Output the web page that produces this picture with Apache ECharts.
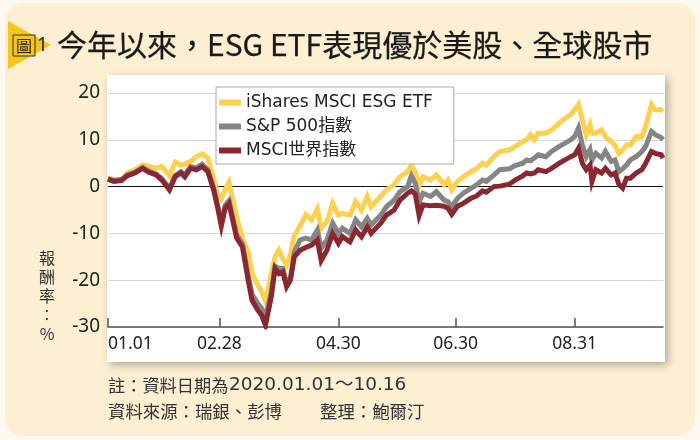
<!DOCTYPE html>
<html><head><meta charset="utf-8">
<script src="https://cdn.jsdelivr.net/npm/echarts@6/dist/echarts.min.js"></script>
<style>html,body{margin:0;padding:0;background:#FFF9EF}#c{width:700px;height:440px}</style>
</head><body><div id="c"></div>
<script>
// days since 2020-01-01
const days = [0,3,7,10,14,18,21,25,28,32,35,38,40,43,46,49,52,55,57,59,61,63,67,70,73,75,78,80,82,85,87,89,91,93,95,97,100,103,106,109,111,114,117,120,122,126,129,132,135,137,142,145,149,152,156,158,160,162,164,168,171,175,177,179,182,185,189,192,195,197,201,204,209,212,216,218,220,222,224,228,231,235,238,241,243,245,247,249,251,252,254,257,259,262,264,266,268,270,272,275,278,280,283,285,288,289];
const esgEtf = [1.9,1.5,1.4,2.9,3.6,4.6,4.4,3.9,4.3,2.3,5.2,4.6,4.8,5.4,6.4,7.0,6.1,1.8,-1.5,-2.6,-0.7,0.9,-6.5,-11,-14,-18.5,-21,-22.5,-24.5,-18.6,-15,-13.6,-15.4,-16.8,-14.5,-10.5,-8.4,-6,-7.1,-4.8,-8.9,-7.5,-3.6,-6.1,-5.7,-6.1,-3.2,-5,-2.1,-4.3,-2.1,-0.7,0.4,2.1,3.2,4.6,3.2,0.2,2.1,1.4,2.5,0.4,1.4,-0.7,1.1,2.1,3.2,3.9,5,4.6,6.4,7.5,7.8,8.6,9.6,10,11.1,10,11.4,11.4,12.1,13.6,14.6,15.4,16.4,17.5,14.3,11.1,13.2,11.4,11.4,12.1,10.7,9.6,8.9,7.1,7.8,8.9,8.9,10.7,10.7,12.9,17.5,16.4,16.4,16];
const sp500 = [1.7,1.3,1.5,2.5,3.1,4.1,3.4,2.7,1.8,-0.4,2.4,3.2,2.5,4.3,4.0,4.8,3.6,-0.3,-3.8,-7.8,-4.0,-3.0,-10.3,-12.2,-19,-23,-25,-26,-28,-22.5,-17,-17.5,-17.5,-20.5,-19.5,-14,-11.4,-11,-11.4,-9.3,-13.2,-11.4,-7.8,-10,-8.9,-10,-7.1,-8.6,-6.8,-8.2,-6.1,-4.3,-2.9,-1.1,0,2.3,0.7,-3.3,-1.4,-2.1,-1.1,-2.9,-3.2,-4.3,-2.5,-1.4,-0.4,0.4,1.4,1.1,2.5,3.6,3.8,4.5,5,5.7,5.5,6.1,6.8,6.4,7.5,8.6,9.3,10,10.7,12.5,8.9,6.4,7.9,5.7,7.1,6.1,7.5,5.4,5.7,3.2,3.8,4.6,5.7,6.4,7.5,8.6,11.8,11.1,10.5,10];
const msciWorld = [1.6,1.1,1.3,2.3,2.9,3.9,3.1,2.5,1.4,-0.7,2.1,2.9,2.1,3.9,3.6,4.3,3.2,-0.7,-4.3,-8.4,-4.6,-3.6,-11,-12.9,-20,-24.3,-26.4,-27.5,-29.6,-23.6,-17.5,-18.6,-18.2,-21.4,-20,-15,-13.6,-13,-12.5,-11.4,-15.8,-13.6,-10,-12.1,-10.7,-11.8,-9.3,-10.7,-8.6,-10,-7.8,-6.1,-5,-2.9,-1.4,-0.9,-1.6,-6.2,-3.9,-4.1,-4,-4.2,-4.6,-5.9,-4.2,-3.6,-2.5,-2,-0.9,-1.2,0,0.1,0.5,1.4,2.3,2.9,2.7,2.9,3.6,3.2,3.9,5,5.7,6.4,6.8,8.2,5,3.6,4.6,1.1,3.6,2.9,3.9,2.5,2.9,0.5,-0.3,1.8,1.8,2.9,3.6,5,7.5,7.1,6.8,6.1];
const tickDays = [0,58,120,181,243];
const tickLabels = ['01.01','02.28','04.30','06.30','08.31'];
const seriesNames = ['iShares MSCI ESG ETF','S&P 500指數','MSCI世界指數'];
const seriesColors = ['#FDD04E','#858585','#8B2730'];
const titleText = '今年以來，ESG ETF表現優於美股、全球股市';
const yName = '報\n酬\n率\n︰\n%';
const note1a = '註：資料日期為';
const note1b = '2020.01.01～10.16';
const note2a = '資料來源：瑞銀、彭博';
const note2b = '整理：鮑爾汀';

const FONT = '"Noto Sans", "Noto Sans CJK TC", sans-serif';
const WIDE = '"DejaVu Sans", "Noto Sans CJK TC", sans-serif';
const CJK = '"Noto Sans CJK TC", sans-serif';
const dataSets = [esgEtf, sp500, msciWorld];

const chart = echarts.init(document.getElementById('c'));
chart.setOption({
  animation: false,
  backgroundColor: '#FFF9EF',
  textStyle: {fontFamily: FONT},
  graphic: [
    {type:'rect', z:-10, shape:{x:5,y:3,width:690,height:433,r:18}, style:{fill:'#FDEFD2'}},
    {type:'rect', z:-9, shape:{x:107,y:75,width:558,height:287}, style:{fill:'#fff', shadowBlur:8, shadowOffsetX:3, shadowOffsetY:3, shadowColor:'rgba(0,0,0,0.3)'}},
    {type:'polygon', z:-8, shape:{points:[[8,21],[8,69],[51,45]]}, style:{fill:'#F6C51B'}},
    {type:'rect', z:-7, shape:{x:13,y:35,width:22,height:21}, style:{fill:'#F6C51B', stroke:'#333', lineWidth:1}},
    {type:'text', x:24, y:45.5, style:{text:'圖', font:'16px '+CJK, fill:'#222', align:'center', verticalAlign:'middle'}},
    {type:'text', x:37, y:46, style:{text:'1', font:'19px '+FONT, fill:'#222', align:'left', verticalAlign:'middle'}},
    {type:'text', x:57, y:45, style:{text:titleText, font:'30px '+CJK, fill:'#1a1a1a', stroke:'#1a1a1a', lineWidth:0.25, align:'left', verticalAlign:'middle'}},
    {type:'text', x:47, y:248, style:{text:yName, font:'16px '+CJK, lineHeight:19, fill:'#333', align:'center', verticalAlign:'top'}},
    {type:'text', x:108, y:385, style:{text:note1a, font:'17.2px '+CJK, fill:'#333', align:'left', verticalAlign:'middle'}},
    {type:'text', x:229, y:385, style:{text:note1b, font:'18.5px '+WIDE, fill:'#333', align:'left', verticalAlign:'middle'}},
    {type:'text', x:108, y:411, style:{text:note2a, font:'17.4px '+CJK, fill:'#333', align:'left', verticalAlign:'middle'}},
    {type:'text', x:320, y:411, style:{text:note2b, font:'17.4px '+CJK, fill:'#333', align:'left', verticalAlign:'middle'}}
  ],
  legend: {
    orient:'vertical', left:216, top:87,
    data: seriesNames,
    icon:'rect', itemWidth:22, itemHeight:6, itemGap:7,
    padding:[7,21,5,3],
    backgroundColor:'#fff', borderColor:'#aaa', borderWidth:1, borderRadius:0,
    textStyle:{fontSize:17, color:'#222', fontFamily:WIDE}
  },
  grid: {left:108, right:37, top:93, bottom:113},
  xAxis: {
    type:'value', min:0, max:289,
    axisLine:{show:true, onZero:false, lineStyle:{color:'#555', width:1.5}},
    axisTick:{show:true, inside:true, length:9, customValues:tickDays, lineStyle:{color:'#555', width:1.5}},
    axisLabel:{customValues:tickDays, formatter:v=>tickLabels[tickDays.indexOf(v)], alignMinLabel:'left', fontSize:17.5, color:'#222', margin:8},
    splitLine:{show:false}
  },
  yAxis: {
    type:'value', min:-30, max:20, interval:10,
    axisLine:{show:false}, axisTick:{show:false},
    axisLabel:{fontSize:19, color:'#222', margin:8},
    splitLine:{show:true, lineStyle:{color:['#d9d9d9','#d9d9d9','#d9d9d9','#111','#d9d9d9','#d9d9d9'], width:1.2}}
  },
  series: seriesNames.map((name,k)=>({
    name, type:'line', symbol:'none',
    data: days.map((d,i)=>[d, dataSets[k][i]]),
    lineStyle:{width:5, color:seriesColors[k], join:'miter'},
    itemStyle:{color:seriesColors[k]},
    z: 2+k
  }))
});
</script>
</body></html>
